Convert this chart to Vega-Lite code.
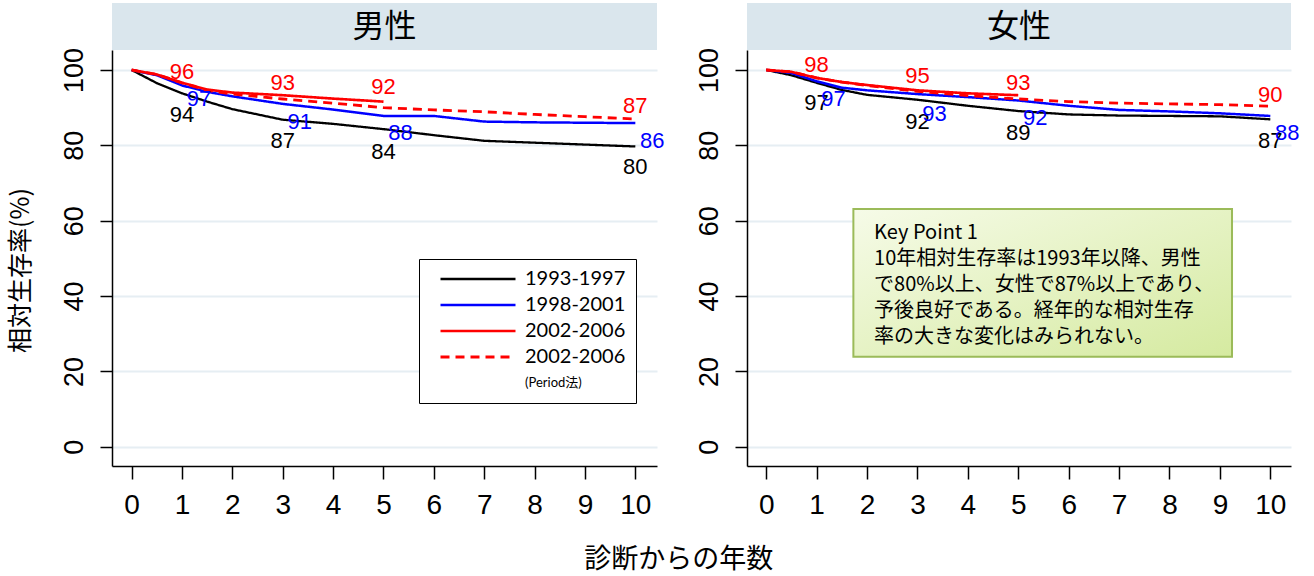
{
  "$schema": "https://vega.github.io/schema/vega-lite/v6.json",
  "padding": {"left": 7, "top": 3, "right": 5, "bottom": 5},
  "background": "white",
  "bounds": "flush",
  "columns": 2,
  "spacing": {"row": 0, "column": 90},
  "title": {"text": "診断からの年数", "orient": "bottom", "anchor": "middle", "font": "Noto Sans CJK JP", "fontSize": 27, "fontWeight": "normal", "color": "black", "dx": 25, "offset": 28},
  "config": {
    "view": {"stroke": null},
    "axis": {"labelColor": "black", "domainColor": "black", "tickColor": "black", "domainWidth": 1.5, "tickWidth": 1.5, "labelFont": "Liberation Sans", "titleColor": "black"}
  },
  "resolve": {"legend": {"color": "independent", "strokeDash": "independent", "strokeWidth": "independent"}},
  "datasets": {
    "curves": [
      {"sex": "男性", "series": "1993-1997", "t": 0, "s": 100},
      {"sex": "男性", "series": "1993-1997", "t": 0.5, "s": 96.5},
      {"sex": "男性", "series": "1993-1997", "t": 1, "s": 93.8},
      {"sex": "男性", "series": "1993-1997", "t": 1.5, "s": 91.6},
      {"sex": "男性", "series": "1993-1997", "t": 2, "s": 89.6},
      {"sex": "男性", "series": "1993-1997", "t": 3, "s": 86.8},
      {"sex": "男性", "series": "1993-1997", "t": 4, "s": 85.7},
      {"sex": "男性", "series": "1993-1997", "t": 5, "s": 84.3},
      {"sex": "男性", "series": "1993-1997", "t": 6, "s": 82.7},
      {"sex": "男性", "series": "1993-1997", "t": 7, "s": 81.2},
      {"sex": "男性", "series": "1993-1997", "t": 8, "s": 80.7},
      {"sex": "男性", "series": "1993-1997", "t": 9, "s": 80.2},
      {"sex": "男性", "series": "1993-1997", "t": 10, "s": 79.7},
      {"sex": "男性", "series": "1998-2001", "t": 0, "s": 100},
      {"sex": "男性", "series": "1998-2001", "t": 0.5, "s": 98.6},
      {"sex": "男性", "series": "1998-2001", "t": 1, "s": 95.9},
      {"sex": "男性", "series": "1998-2001", "t": 1.5, "s": 94.2},
      {"sex": "男性", "series": "1998-2001", "t": 2, "s": 93.0},
      {"sex": "男性", "series": "1998-2001", "t": 3, "s": 91.0},
      {"sex": "男性", "series": "1998-2001", "t": 4, "s": 89.5},
      {"sex": "男性", "series": "1998-2001", "t": 5, "s": 87.8},
      {"sex": "男性", "series": "1998-2001", "t": 6, "s": 87.8},
      {"sex": "男性", "series": "1998-2001", "t": 7, "s": 86.3},
      {"sex": "男性", "series": "1998-2001", "t": 8, "s": 86.1},
      {"sex": "男性", "series": "1998-2001", "t": 9, "s": 86.0},
      {"sex": "男性", "series": "1998-2001", "t": 10, "s": 85.9},
      {"sex": "男性", "series": "2002-2006", "t": 0, "s": 100},
      {"sex": "男性", "series": "2002-2006", "t": 0.5, "s": 98.8},
      {"sex": "男性", "series": "2002-2006", "t": 1, "s": 96.6},
      {"sex": "男性", "series": "2002-2006", "t": 1.5, "s": 94.8},
      {"sex": "男性", "series": "2002-2006", "t": 2, "s": 94.0},
      {"sex": "男性", "series": "2002-2006", "t": 3, "s": 93.3},
      {"sex": "男性", "series": "2002-2006", "t": 4, "s": 92.4},
      {"sex": "男性", "series": "2002-2006", "t": 5, "s": 91.6},
      {"sex": "男性", "series": "2002-2006 (Period法)", "t": 0, "s": 100},
      {"sex": "男性", "series": "2002-2006 (Period法)", "t": 0.5, "s": 98.8},
      {"sex": "男性", "series": "2002-2006 (Period法)", "t": 1, "s": 96.6},
      {"sex": "男性", "series": "2002-2006 (Period法)", "t": 1.5, "s": 94.6},
      {"sex": "男性", "series": "2002-2006 (Period法)", "t": 2, "s": 93.6},
      {"sex": "男性", "series": "2002-2006 (Period法)", "t": 3, "s": 92.3},
      {"sex": "男性", "series": "2002-2006 (Period法)", "t": 4, "s": 91.2},
      {"sex": "男性", "series": "2002-2006 (Period法)", "t": 5, "s": 90.0},
      {"sex": "男性", "series": "2002-2006 (Period法)", "t": 6, "s": 89.4},
      {"sex": "男性", "series": "2002-2006 (Period法)", "t": 7, "s": 88.9},
      {"sex": "男性", "series": "2002-2006 (Period法)", "t": 8, "s": 88.2},
      {"sex": "男性", "series": "2002-2006 (Period法)", "t": 9, "s": 87.6},
      {"sex": "男性", "series": "2002-2006 (Period法)", "t": 10, "s": 87.0},
      {"sex": "女性", "series": "1993-1997", "t": 0, "s": 100},
      {"sex": "女性", "series": "1993-1997", "t": 0.5, "s": 98.6},
      {"sex": "女性", "series": "1993-1997", "t": 1, "s": 96.6},
      {"sex": "女性", "series": "1993-1997", "t": 1.5, "s": 94.7},
      {"sex": "女性", "series": "1993-1997", "t": 2, "s": 93.4},
      {"sex": "女性", "series": "1993-1997", "t": 3, "s": 92.1},
      {"sex": "女性", "series": "1993-1997", "t": 4, "s": 90.5},
      {"sex": "女性", "series": "1993-1997", "t": 5, "s": 89.1},
      {"sex": "女性", "series": "1993-1997", "t": 6, "s": 88.2},
      {"sex": "女性", "series": "1993-1997", "t": 7, "s": 87.9},
      {"sex": "女性", "series": "1993-1997", "t": 8, "s": 87.8},
      {"sex": "女性", "series": "1993-1997", "t": 9, "s": 87.7},
      {"sex": "女性", "series": "1993-1997", "t": 10, "s": 86.9},
      {"sex": "女性", "series": "1998-2001", "t": 0, "s": 100},
      {"sex": "女性", "series": "1998-2001", "t": 0.5, "s": 99.2},
      {"sex": "女性", "series": "1998-2001", "t": 1, "s": 97.0},
      {"sex": "女性", "series": "1998-2001", "t": 1.5, "s": 95.3},
      {"sex": "女性", "series": "1998-2001", "t": 2, "s": 94.6},
      {"sex": "女性", "series": "1998-2001", "t": 3, "s": 93.6},
      {"sex": "女性", "series": "1998-2001", "t": 4, "s": 92.8},
      {"sex": "女性", "series": "1998-2001", "t": 5, "s": 91.9},
      {"sex": "女性", "series": "1998-2001", "t": 6, "s": 90.5},
      {"sex": "女性", "series": "1998-2001", "t": 7, "s": 89.4},
      {"sex": "女性", "series": "1998-2001", "t": 8, "s": 89.0},
      {"sex": "女性", "series": "1998-2001", "t": 9, "s": 88.5},
      {"sex": "女性", "series": "1998-2001", "t": 10, "s": 87.8},
      {"sex": "女性", "series": "2002-2006", "t": 0, "s": 100},
      {"sex": "女性", "series": "2002-2006", "t": 0.5, "s": 99.5},
      {"sex": "女性", "series": "2002-2006", "t": 1, "s": 97.9},
      {"sex": "女性", "series": "2002-2006", "t": 1.5, "s": 96.8},
      {"sex": "女性", "series": "2002-2006", "t": 2, "s": 96.0},
      {"sex": "女性", "series": "2002-2006", "t": 3, "s": 94.6},
      {"sex": "女性", "series": "2002-2006", "t": 4, "s": 93.8},
      {"sex": "女性", "series": "2002-2006", "t": 5, "s": 93.3},
      {"sex": "女性", "series": "2002-2006 (Period法)", "t": 0, "s": 100},
      {"sex": "女性", "series": "2002-2006 (Period法)", "t": 0.5, "s": 99.5},
      {"sex": "女性", "series": "2002-2006 (Period法)", "t": 1, "s": 97.9},
      {"sex": "女性", "series": "2002-2006 (Period法)", "t": 1.5, "s": 96.8},
      {"sex": "女性", "series": "2002-2006 (Period法)", "t": 2, "s": 95.9},
      {"sex": "女性", "series": "2002-2006 (Period法)", "t": 3, "s": 94.3},
      {"sex": "女性", "series": "2002-2006 (Period法)", "t": 4, "s": 93.2},
      {"sex": "女性", "series": "2002-2006 (Period法)", "t": 5, "s": 92.3},
      {"sex": "女性", "series": "2002-2006 (Period法)", "t": 6, "s": 91.6},
      {"sex": "女性", "series": "2002-2006 (Period法)", "t": 7, "s": 91.2},
      {"sex": "女性", "series": "2002-2006 (Period法)", "t": 8, "s": 91.0},
      {"sex": "女性", "series": "2002-2006 (Period法)", "t": 9, "s": 90.8},
      {"sex": "女性", "series": "2002-2006 (Period法)", "t": 10, "s": 90.4}
    ],
    "labels": [
      {"sex": "男性", "grp": "red", "t": 1, "v": 96},
      {"sex": "男性", "grp": "red", "t": 3, "v": 93},
      {"sex": "男性", "grp": "red", "t": 5, "v": 92},
      {"sex": "男性", "grp": "red", "t": 10, "v": 87},
      {"sex": "男性", "grp": "black", "t": 1, "v": 94},
      {"sex": "男性", "grp": "black", "t": 3, "v": 87},
      {"sex": "男性", "grp": "black", "t": 5, "v": 84},
      {"sex": "男性", "grp": "black", "t": 10, "v": 80},
      {"sex": "男性", "grp": "blue", "t": 1, "v": 97},
      {"sex": "男性", "grp": "blue", "t": 3, "v": 91},
      {"sex": "男性", "grp": "blue", "t": 5, "v": 88},
      {"sex": "男性", "grp": "blue", "t": 10, "v": 86},
      {"sex": "女性", "grp": "red", "t": 1, "v": 98},
      {"sex": "女性", "grp": "red", "t": 3, "v": 95},
      {"sex": "女性", "grp": "red", "t": 5, "v": 93},
      {"sex": "女性", "grp": "red", "t": 10, "v": 90},
      {"sex": "女性", "grp": "black", "t": 1, "v": 97},
      {"sex": "女性", "grp": "black", "t": 3, "v": 92},
      {"sex": "女性", "grp": "black", "t": 5, "v": 89},
      {"sex": "女性", "grp": "black", "t": 10, "v": 87},
      {"sex": "女性", "grp": "blue", "t": 1, "v": 97},
      {"sex": "女性", "grp": "blue", "t": 3, "v": 93},
      {"sex": "女性", "grp": "blue", "t": 5, "v": 92},
      {"sex": "女性", "grp": "blue", "t": 10, "v": 88}
    ]
  },
  "concat": [
    {
      "width": 545, "height": 47,
      "view": {"fill": "#dae6ed", "stroke": null},
      "data": {"values": [{"label": "男性"}]},
      "mark": {"type": "text", "font": "Noto Sans CJK JP", "fontSize": 32, "color": "black"},
      "encoding": {"text": {"field": "label"}}
    },
    {
      "width": 544, "height": 47,
      "view": {"fill": "#dae6ed", "stroke": null},
      "data": {"values": [{"label": "女性"}]},
      "mark": {"type": "text", "font": "Noto Sans CJK JP", "fontSize": 32, "color": "black"},
      "encoding": {"text": {"field": "label"}}
    },
    {
      "width": 545, "height": 416,
      "layer": [
        {
          "data": {"name": "curves"},
          "transform": [{"filter": "datum.sex == '男性'"}],
          "mark": {"type": "line"},
          "encoding": {
            "x": {"field": "t", "type": "quantitative", "scale": {"domain": [-0.39, 10.43], "nice": false, "zero": false},
              "axis": {"title": null, "values": [0,1,2,3,4,5,6,7,8,9,10], "labelFontSize": 28, "tickSize": 13, "labelPadding": 12, "grid": false, "labelFlush": false}},
            "y": {"field": "s", "type": "quantitative", "scale": {"domain": [-5.1, 105.3], "nice": false, "zero": false},
              "axis": {"title": "相対生存率(%)", "values": [0,20,40,60,80,100], "labelAngle": 270, "labelAlign": "center", "labelBaseline": "bottom", "labelFontSize": 27, "labelPadding": 12, "tickSize": 12, "grid": true, "gridColor": "#e6eef3", "gridWidth": 2, "titleFont": "Noto Sans CJK JP", "titleFontSize": 25, "titleFontWeight": "normal", "titlePadding": 27, "titleY": 220}},
            "color": {"field": "series", "type": "nominal",
              "scale": {"domain": ["1993-1997", "1998-2001", "2002-2006", "2002-2006 (Period法)", "(Period法)"], "range": ["#000000", "#0000ff", "#ff0000", "#ff0000", "rgba(0,0,0,0)"]},
              "legend": {"orient": "none", "legendX": 307, "legendY": 209, "title": null, "symbolType": "stroke", "symbolSize": 5625, "clipHeight": 20, "symbolOffset": 10, "padding": 10, "strokeColor": "black", "fillColor": "white", "labelFont": "Lato, Noto Sans CJK JP", "labelFontSize": {"expr": "datum.label == '(Period法)' ? 13 : 20"}, "labelColor": "black", "labelOffset": 8, "rowPadding": 6, "labelLimit": 300,
                "labelExpr": "datum.label == '2002-2006 (Period法)' ? '2002-2006' : datum.label"}},
            "strokeDash": {"field": "series", "type": "nominal",
              "scale": {"domain": ["1993-1997", "1998-2001", "2002-2006", "2002-2006 (Period法)", "(Period法)"], "range": [[1,0],[1,0],[1,0],[9,6],[1,0]]},
              "legend": {"orient": "none", "legendX": 307, "legendY": 209, "title": null, "symbolType": "stroke", "symbolSize": 5625, "clipHeight": 20, "symbolOffset": 10, "padding": 10, "strokeColor": "black", "fillColor": "white", "labelFont": "Lato, Noto Sans CJK JP", "labelFontSize": {"expr": "datum.label == '(Period法)' ? 13 : 20"}, "labelColor": "black", "labelOffset": 8, "rowPadding": 6, "labelLimit": 300,
                "labelExpr": "datum.label == '2002-2006 (Period法)' ? '2002-2006' : datum.label"}},
            "strokeWidth": {"field": "series", "type": "nominal",
              "scale": {"domain": ["1993-1997", "1998-2001", "2002-2006", "2002-2006 (Period法)", "(Period法)"], "range": [2.3, 3, 3, 2.5, 0]},
              "legend": {"orient": "none", "legendX": 307, "legendY": 209, "title": null, "symbolType": "stroke", "symbolSize": 5625, "clipHeight": 20, "symbolOffset": 10, "padding": 10, "strokeColor": "black", "fillColor": "white", "labelFont": "Lato, Noto Sans CJK JP", "labelFontSize": {"expr": "datum.label == '(Period法)' ? 13 : 20"}, "labelColor": "black", "labelOffset": 8, "rowPadding": 6, "labelLimit": 300,
                "labelExpr": "datum.label == '2002-2006 (Period法)' ? '2002-2006' : datum.label"}}
          }
        },
        {
          "data": {"name": "labels"},
          "transform": [{"filter": "datum.sex == '男性' && datum.grp == 'red'"}],
          "mark": {"type": "text", "font": "Liberation Sans", "fontSize": 22, "color": "#ff0000", "dy": -13},
          "encoding": {"x": {"field": "t", "type": "quantitative"}, "y": {"field": "v", "type": "quantitative"}, "text": {"field": "v", "type": "quantitative"}}
        },
        {
          "data": {"name": "labels"},
          "transform": [{"filter": "datum.sex == '男性' && datum.grp == 'black'"}],
          "mark": {"type": "text", "font": "Liberation Sans", "fontSize": 22, "color": "#000000", "dy": 22},
          "encoding": {"x": {"field": "t", "type": "quantitative"}, "y": {"field": "v", "type": "quantitative"}, "text": {"field": "v", "type": "quantitative"}}
        },
        {
          "data": {"name": "labels"},
          "transform": [{"filter": "datum.sex == '男性' && datum.grp == 'blue'"}],
          "mark": {"type": "text", "font": "Liberation Sans", "fontSize": 22, "color": "#0000ff", "dx": 17, "dy": 18},
          "encoding": {"x": {"field": "t", "type": "quantitative"}, "y": {"field": "v", "type": "quantitative"}, "text": {"field": "v", "type": "quantitative"}}
        }
      ]
    },
    {
      "width": 544, "height": 416,
      "layer": [
        {
          "data": {"values": [{"box": 1}]},
          "mark": {"type": "rect", "fill": {"gradient": "linear", "x1": 0, "y1": 0, "x2": 1, "y2": 1, "stops": [{"offset": 0, "color": "#f6fbe8"}, {"offset": 1, "color": "#d5eaa0"}]}, "stroke": "#9bbb59", "strokeWidth": 2},
          "encoding": {
            "x": {"datum": 1.73, "type": "quantitative", "scale": {"domain": [-0.38, 10.41], "nice": false, "zero": false}, "axis": {"title": null, "values": [0,1,2,3,4,5,6,7,8,9,10], "labelFontSize": 28, "tickSize": 13, "labelPadding": 12, "grid": false, "labelFlush": false}},
            "x2": {"datum": 9.24},
            "y": {"datum": 63.1, "type": "quantitative", "scale": {"domain": [-5.1, 105.3], "nice": false, "zero": false}, "axis": {"title": null, "values": [0,20,40,60,80,100], "labelAngle": 270, "labelAlign": "center", "labelBaseline": "bottom", "labelFontSize": 27, "labelPadding": 12, "tickSize": 12, "grid": true, "gridColor": "#e6eef3", "gridWidth": 2}},
            "y2": {"datum": 23.9}
          }
        },
        {
          "data": {"values": [{"note": "Key Point 1\n10年相対生存率は1993年以降、男性\nで80%以上、女性で87%以上であり、\n予後良好である。経年的な相対生存\n率の大きな変化はみられない。"}]},
          "mark": {"type": "text", "align": "left", "baseline": "top", "lineBreak": "\n", "lineHeight": 26, "font": "Noto Sans CJK JP", "fontSize": 20, "color": "black"},
          "encoding": {"x": {"datum": 2.14, "type": "quantitative"}, "y": {"datum": 59.5, "type": "quantitative"}, "text": {"field": "note"}}
        },
        {
          "data": {"name": "curves"},
          "transform": [{"filter": "datum.sex == '女性'"}],
          "mark": {"type": "line"},
          "encoding": {
            "x": {"field": "t", "type": "quantitative"},
            "y": {"field": "s", "type": "quantitative"},
            "color": {"field": "series", "type": "nominal", "legend": null},
            "strokeDash": {"field": "series", "type": "nominal", "legend": null},
            "strokeWidth": {"field": "series", "type": "nominal", "legend": null}
          }
        },
        {
          "data": {"name": "labels"},
          "transform": [{"filter": "datum.sex == '女性' && datum.grp == 'red'"}],
          "mark": {"type": "text", "font": "Liberation Sans", "fontSize": 22, "color": "#ff0000", "dy": -13},
          "encoding": {"x": {"field": "t", "type": "quantitative"}, "y": {"field": "v", "type": "quantitative"}, "text": {"field": "v", "type": "quantitative"}}
        },
        {
          "data": {"name": "labels"},
          "transform": [{"filter": "datum.sex == '女性' && datum.grp == 'black'"}],
          "mark": {"type": "text", "font": "Liberation Sans", "fontSize": 22, "color": "#000000", "dy": 22},
          "encoding": {"x": {"field": "t", "type": "quantitative"}, "y": {"field": "v", "type": "quantitative"}, "text": {"field": "v", "type": "quantitative"}}
        },
        {
          "data": {"name": "labels"},
          "transform": [{"filter": "datum.sex == '女性' && datum.grp == 'blue'"}],
          "mark": {"type": "text", "font": "Liberation Sans", "fontSize": 22, "color": "#0000ff", "dx": 17, "dy": 18},
          "encoding": {"x": {"field": "t", "type": "quantitative"}, "y": {"field": "v", "type": "quantitative"}, "text": {"field": "v", "type": "quantitative"}}
        }
      ]
    }
  ]
}
